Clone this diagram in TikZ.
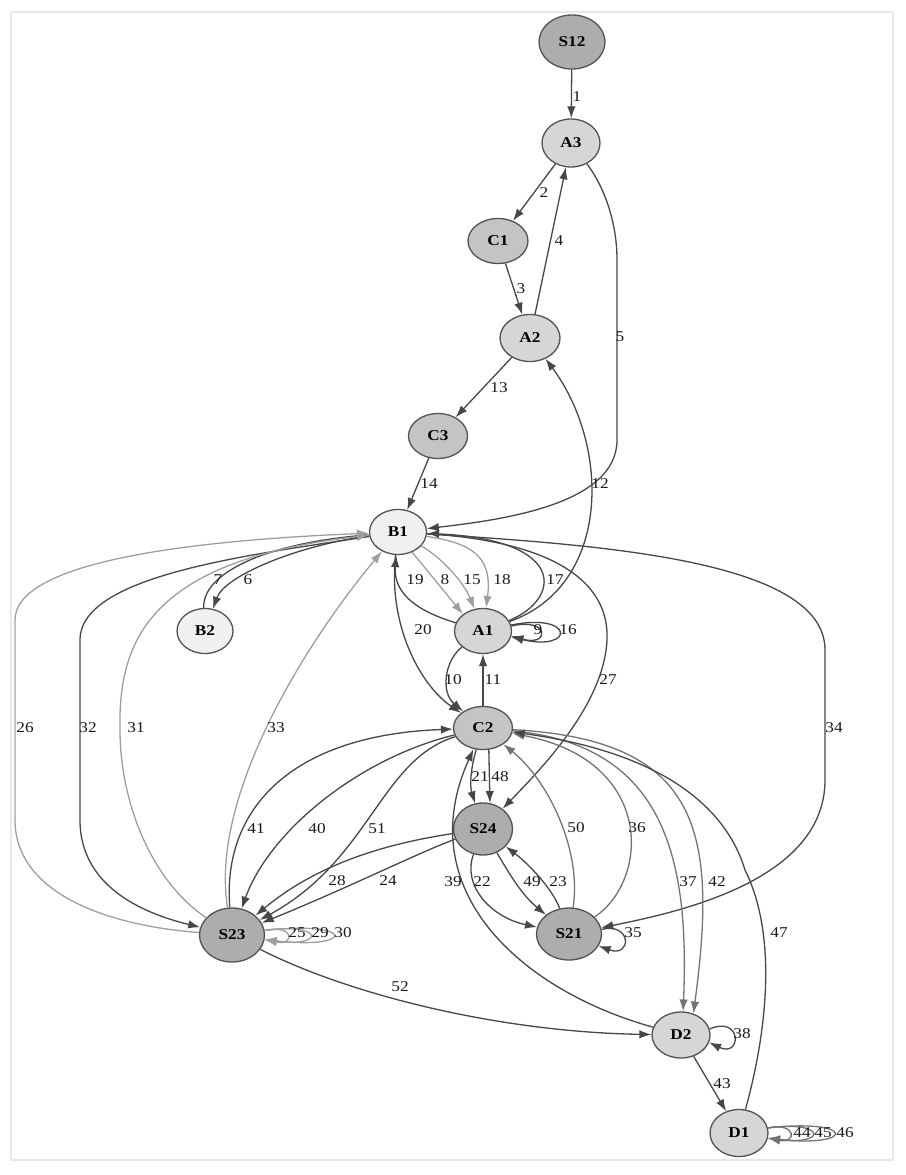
\documentclass[tikz,border=0pt]{standalone}
\usepackage{fontspec}
\setmainfont{Liberation Serif}[FakeStretch=1.15]
\usetikzlibrary{shapes.geometric}
\usetikzlibrary{arrows.meta}

\begin{document}
\begin{tikzpicture}[x=1pt,y=-1pt,
	st/.style={ellipse, draw=black!68, line width=1.3pt, inner sep=0pt, font=\fontsize{15}{17}\selectfont\bfseries},
	stS/.style={st, fill=black!32},
	stC/.style={st, fill=black!23},
	stA/.style={st, fill=black!16},
	stB/.style={st, fill=black!6},
	edk/.style={->, line width=1.3pt, draw=black!72},
	emd/.style={edk, draw=black!55},
	elt/.style={edk, draw=black!38},
	lbl/.style={inner sep=0pt, font=\fontsize{15}{17}\selectfont, text=black!90},
	>={Latex[length=12pt,width=8.5pt]}]
	\useasboundingbox (0,0) rectangle (905,1175);
	\draw[black!9, line width=1.5pt] (11,12) rectangle (893,1160);
	\foreach \nm/\x/\y/\st/\w/\h in {S12/572/42/stS/66/54, A3/571/143/stA/58/48, C1/498/241/stC/60/45,
		A2/530/338/stA/60/47, C3/438/436/stC/59/45, B1/398/532/stB/57/45, B2/205/631/stB/56/45,
		A1/483/631/stA/57/45, C2/483/728/stC/59/43, S24/483/829/stS/59/52, S23/232/935/stS/65/54,
		S21/569/934/stS/65/52, D2/681/1035/stA/58/46, D1/739/1133/stA/58/47}{
		\node[\st, minimum width=\w, minimum height=\h] (\nm) at (\x,\y) {\nm};
	}
	% top chain
	\draw[edk] (S12) -- (A3);
	\draw[edk] (A3) -- (C1);
	\draw[edk] (C1) -- (A2);
	\draw[edk] (A2) -- (A3);
	\draw[edk] (A3) .. controls (603,185) and (617,220) .. (617,260) -- (617,440) .. controls (617,505) and (500,520) .. (B1);
	\draw[edk] (A2) -- (C3);
	\draw[edk] (C3) -- (B1);
	\draw[edk] (A1) .. controls (612,585) and (610,445) .. (A2);
	% B1, B2, A1
	\draw[edk] (B1) .. controls (300,545) and (225,575) .. (B2);
	\draw[edk] (B2) .. controls (202,575) and (260,545) .. (B1);
	\draw[elt] (B1.-55) -- (A1.140);
	\draw[elt] (B1) .. controls (445,560) and (465,585) .. (A1);
	\draw[elt] (B1) .. controls (470,543) and (493,555) .. (A1);
	\draw[edk] (A1) .. controls (560,600) and (570,540) .. (B1);
	\draw[edk] (A1) .. controls (420,612) and (393,595) .. (B1);
	\draw[edk] (A1.10) .. controls (550,617) and (550,647) .. (A1.-10);
	\draw[edk] (A1.12) .. controls (575,612) and (575,652) .. (A1.-12);
	\draw[edk] (B1) .. controls (388,625) and (420,685) .. (C2);
	\draw[edk] (A1) .. controls (445,660) and (440,692) .. (C2);
	\draw[edk] (C2) -- (A1);
	\draw[edk] (B1) .. controls (530,540) and (610,570) .. (607,640) .. controls (604,705) and (540,770) .. (S24);
	\draw[edk] (B1) .. controls (600,545) and (825,560) .. (825,650) -- (825,780) .. controls (825,880) and (680,912) .. (S21);
	% S23 and B1
	\draw[elt] (S23) .. controls (100,925) and (15,890) .. (15,820) -- (15,620) .. controls (15,560) and (200,540) .. (B1);
	\draw[edk] (B1) .. controls (250,555) and (80,575) .. (80,640) -- (80,820) .. controls (80,890) and (150,915) .. (S23);
	\draw[elt] (S23) .. controls (150,880) and (120,800) .. (120,730) .. controls (118,640) and (150,560) .. (B1);
	\draw[elt] (S23) .. controls (210,800) and (300,650) .. (B1);
	% C2, S24, S23, S21
	\draw[edk] (C2) .. controls (470,770) and (470,787) .. (S24);
	\draw[edk] (C2.-75) -- (S24.75);
	\draw[edk] (S24) .. controls (462,885) and (490,917) .. (S21);
	\draw[edk] (S21) .. controls (553,890) and (530,865) .. (S24);
	\draw[edk] (S24) .. controls (510,875) and (522,895) .. (S21);
	\draw[edk] (S24) .. controls (420,852) and (350,887) .. (S23);
	\draw[edk] (S24) .. controls (390,843) and (320,862) .. (S23);
	\draw[edk] (C2) .. controls (380,760) and (370,860) .. (S23);
	\draw[edk] (C2) .. controls (360,758) and (270,830) .. (S23);
	\draw[edk] (S23) .. controls (222,810) and (290,735) .. (C2);
	\draw[elt] (S23.8) .. controls (295,924) and (295,946) .. (S23.-8);
	\draw[elt] (S23.8) .. controls (325,922) and (325,948) .. (S23.-8);
	\draw[elt] (S23.8) .. controls (356,920) and (356,950) .. (S23.-8);
	\draw[edk] (S21.8) .. controls (632,922) and (632,958) .. (S21.-22);
	\draw[emd] (S21) .. controls (650,880) and (655,760) .. (C2);
	\draw[emd] (S21) .. controls (582,850) and (548,780) .. (C2);
	% D2, D1
	\draw[emd] (C2) .. controls (660,745) and (690,850) .. (D2.85);
	\draw[emd] (C2) .. controls (700,740) and (718,830) .. (D2.60);
	\draw[edk] (D2.12) .. controls (742,1015) and (742,1058) .. (D2.-15);
	\draw[edk] (D2) .. controls (520,990) and (410,890) .. (C2);
	\draw[edk] (S23) .. controls (350,995) and (500,1032) .. (D2);
	\draw[edk] (D2) -- (D1);
	\draw[edk] (D1) .. controls (770,1020) and (775,930) .. (745,870) .. controls (730,820) and (680,755) .. (C2);
	\draw[emd] (D1.10) .. controls (797,1122) and (797,1144) .. (D1.-10);
	\draw[emd] (D1.10) .. controls (827,1120) and (827,1146) .. (D1.-10);
	\draw[emd] (D1.10) .. controls (856,1118) and (856,1148) .. (D1.-10);
	% edge labels
	\foreach \n/\x/\y in {1/577/97, 2/544/193, 3/521/289, 4/559/241, 5/620/337, 6/248/580, 7/218/580,
		8/445/580, 9/538/630, 10/453/680, 11/493/680, 12/600/484, 13/499/388, 14/429/484, 15/472/580,
		16/568/630, 17/555/580, 18/502/580, 19/415/580, 20/423/630, 21/480/777, 22/482/882, 23/558/882,
		24/388/881, 25/297/933, 26/25/728, 27/608/680, 28/337/881, 29/320/933, 30/343/933, 31/136/728,
		32/88/728, 33/276/728, 34/834/728, 35/633/933, 36/637/828, 37/688/882, 38/742/1034, 39/453/882,
		40/317/829, 41/256/829, 42/717/882, 43/722/1084, 44/802/1133, 45/823/1133, 46/845/1133,
		47/779/933, 48/500/777, 49/532/882, 50/576/828, 51/377/829, 52/400/987}{
		\node[lbl] (l\n) at (\x,\y) {\n};
	}
\end{tikzpicture}
\end{document}
